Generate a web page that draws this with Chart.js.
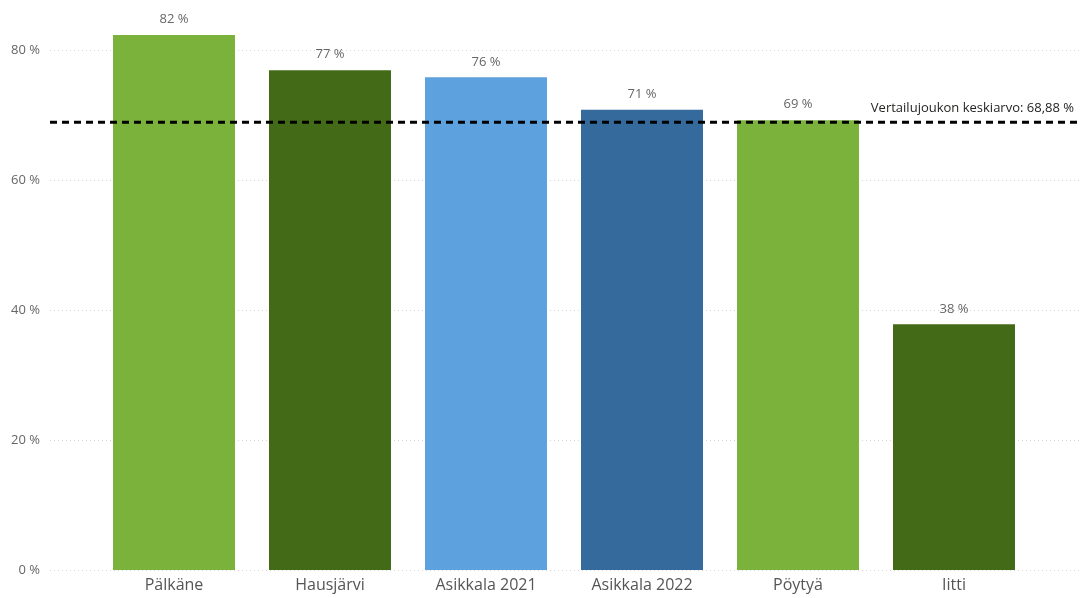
<!DOCTYPE html>
<html>
<head>
<meta charset="utf-8">
<script src="https://cdn.jsdelivr.net/npm/chart.js@4"></script>
<style>
    html, body { margin: 0; padding: 0; background: #fff; }
    #wrap { width: 1080px; height: 598px; position: relative; }
</style>
</head>
<body>
<div id="wrap"><canvas id="chart"></canvas></div>
<script>
const kunnat = ['Pälkäne', 'Hausjärvi', 'Asikkala 2021', 'Asikkala 2022', 'Pöytyä', 'Iitti'];
const osuudet = [82.3, 76.9, 75.8, 70.8, 69.2, 37.8];
const barColors = ['#7AB23B', '#436A16', '#5DA1DE', '#356A9D', '#7AB23B', '#436A16'];
const yTicks = [0, 20, 40, 60, 80];
const keskiarvo = 68.88;
const keskiarvoLabel = 'Vertailujoukon keskiarvo: 68,88 %';

const FONT = '"Open Sans", "Noto Sans", sans-serif';

// dotted gridlines and the average line over the full width
const overlayPlugin = {
    id: 'overlay',
    beforeDatasetsDraw(chart) {
        const ctx = chart.ctx;
        const y = chart.scales.y;
        ctx.save();
        ctx.strokeStyle = '#d4d4d4';
        ctx.lineWidth = 1;
        ctx.setLineDash([1, 3]);
        yTicks.forEach(t => {
            const py = Math.round(y.getPixelForValue(t)) + 0.5;
            ctx.beginPath();
            ctx.moveTo(50, py);
            ctx.lineTo(1080, py);
            ctx.stroke();
        });
        ctx.restore();
    },
    afterDatasetsDraw(chart) {
        const ctx = chart.ctx;
        const y = chart.scales.y;
        const meta = chart.getDatasetMeta(0);
        ctx.save();
        ctx.font = '13px ' + FONT;
        ctx.fillStyle = '#666';
        ctx.textAlign = 'center';
        ctx.textBaseline = 'bottom';
        meta.data.forEach((bar, i) => {
            ctx.fillText(Math.round(osuudet[i]) + ' %', bar.x, bar.y - 9);
        });

        const py = y.getPixelForValue(keskiarvo);
        ctx.strokeStyle = '#000';
        ctx.lineWidth = 3;
        ctx.setLineDash([7, 5]);
        ctx.beginPath();
        ctx.moveTo(50, py);
        ctx.lineTo(1080, py);
        ctx.stroke();

        ctx.setLineDash([]);
        ctx.fillStyle = '#252423';
        ctx.textAlign = 'right';
        ctx.fillText(keskiarvoLabel, 1074, py - 7);
        ctx.restore();
    }
};

new Chart(document.getElementById('chart'), {
    type: 'bar',
    data: {
        labels: kunnat,
        datasets: [{
            data: osuudet,
            backgroundColor: barColors,
            borderWidth: 0,
            barPercentage: 0.782,
            categoryPercentage: 1
        }]
    },
    options: {
        responsive: true,
        maintainAspectRatio: false,
        animation: false,
        layout: { padding: { top: 11, right: 48, left: 0, bottom: 0 } },
        plugins: {
            legend: { display: false },
            tooltip: { enabled: false }
        },
        scales: {
            x: {
                grid: { display: false, drawTicks: false },
                border: { display: false },
                ticks: {
                    font: { family: FONT, size: 16 },
                    color: '#555',
                    padding: 6,
                    maxRotation: 0
                },
                afterFit(scale) {
                    scale.height = 28;
                    scale.paddingLeft = 0;
                    scale.paddingRight = 0;
                }
            },
            y: {
                min: 0,
                max: 86,
                grid: { display: false, drawTicks: false },
                border: { display: false },
                afterBuildTicks(scale) {
                    scale.ticks = yTicks.map(v => ({ value: v }));
                },
                ticks: {
                    font: { family: FONT, size: 13 },
                    color: '#666',
                    padding: 56,
                    callback: v => v + ' %'
                },
                afterFit(scale) {
                    scale.width = 96;
                    scale.paddingTop = 0;
                    scale.paddingBottom = 0;
                }
            }
        }
    },
    plugins: [overlayPlugin]
});
</script>
</body>
</html>
